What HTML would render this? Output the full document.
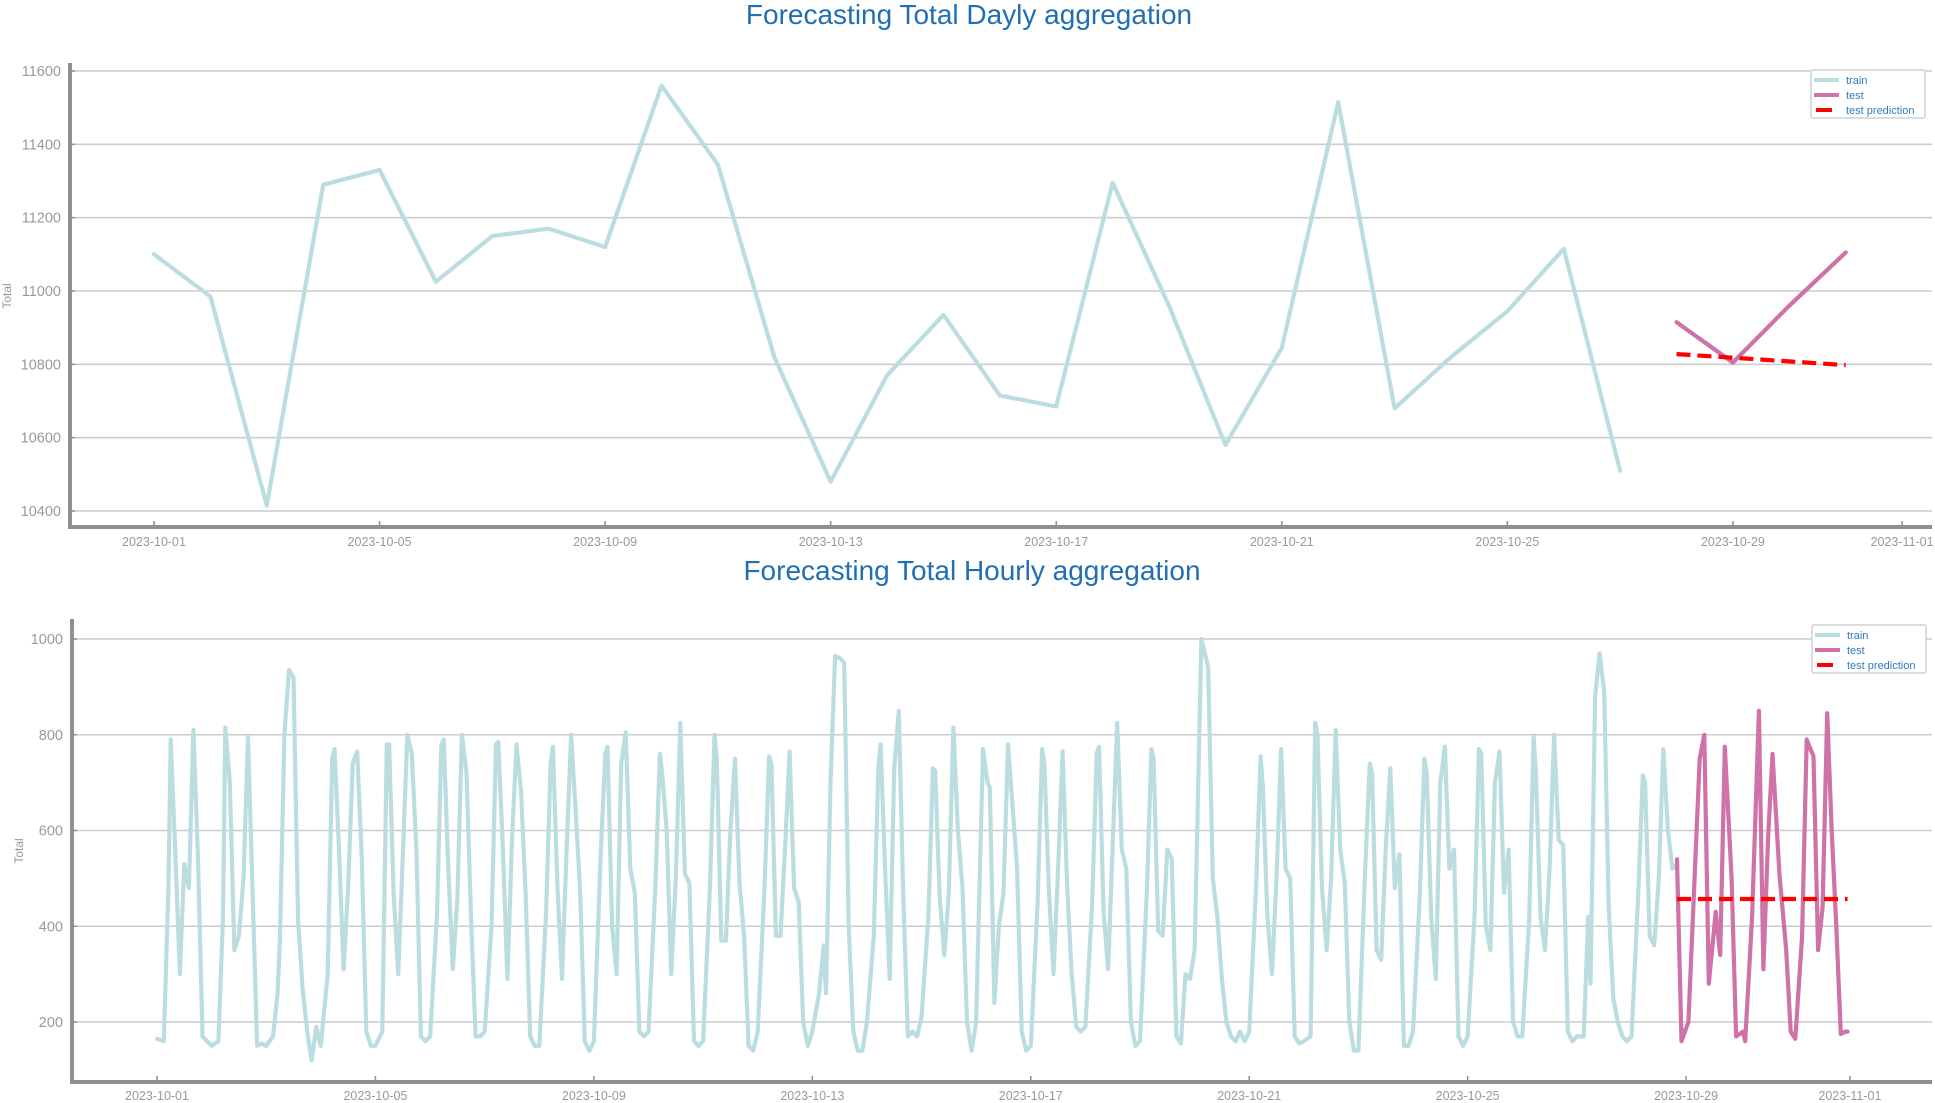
<!DOCTYPE html>
<html><head><meta charset="utf-8">
<style>
html,body{margin:0;padding:0;background:#fff;}
svg{display:block;font-family:"Liberation Sans","DejaVu Sans",sans-serif;}
</style></head>
<body>
<svg id="chart" width="1935" height="1103" viewBox="0 0 1935 1103" xmlns="http://www.w3.org/2000/svg"></svg>
<script>
// ---------- Daily chart data ----------
const dailyTrainDays = [0,1,2,3,4,5,6,7,8,9,10,11,12,13,14,15,16,17,18,19,20,21,22,23,24,25,26];
const dailyTrainValues = [11100,10985,10415,11290,11330,11025,11150,11170,11120,11560,11345,10820,10480,10770,10935,10715,10685,11295,10960,10580,10845,11515,10680,10820,10945,11115,10510];
const dailyTestDays = [27,28,29,30];
const dailyTestValues = [10915,10805,10960,11105];
const dailyPredValues = [10828,10818,10808,10798];
const dailyYTicks = [10400,10600,10800,11000,11200,11400,11600];
const dailyXTickDays = [0,4,8,12,16,20,24,28,31];
const dailyXTickLabels = ["2023-10-01","2023-10-05","2023-10-09","2023-10-13","2023-10-17","2023-10-21","2023-10-25","2023-10-29","2023-11-01"];

// ---------- Hourly chart data ----------
const hourSlots = [0,3,5,6,8,10,12,14,16,18,20,22];
const hourlyTrainByDay = [
[165,160,480,790,560,300,530,480,810,540,170,160],
[150,160,420,815,700,350,380,500,795,470,150,155],
[150,170,260,370,800,935,920,410,270,180,120,190],
[150,300,750,770,560,310,480,740,765,540,180,150],
[150,180,780,780,470,300,540,800,760,560,170,160],
[170,420,780,790,520,310,460,800,720,420,170,170],
[180,400,780,785,560,290,580,780,680,470,170,150],
[150,430,740,775,480,290,560,800,640,470,160,140],
[160,550,760,775,400,300,740,805,520,470,180,170],
[180,480,760,720,600,300,500,825,510,490,160,150],
[160,480,800,750,370,370,600,750,490,380,150,140],
[180,480,755,740,380,380,560,765,480,450,200,150],
[180,260,360,260,700,965,960,950,400,180,140,140],
[200,380,730,780,520,290,730,850,460,170,180,170],
[210,420,730,725,460,340,470,815,600,480,200,140],
[200,770,700,690,240,400,470,780,650,520,180,140],
[150,450,770,740,470,300,520,765,480,300,190,180],
[190,450,760,775,430,310,570,825,560,520,200,150],
[160,470,770,750,390,380,560,540,170,155,300,290],
[350,1000,960,940,500,420,290,200,170,160,180,160],
[180,480,755,690,420,300,500,770,520,500,170,155],
[160,170,825,800,480,350,500,810,560,490,200,140],
[140,520,740,720,350,330,560,730,480,550,150,150],
[180,470,750,720,420,290,700,775,520,560,170,150],
[170,420,770,760,400,350,700,765,470,560,200,170],
[170,410,795,720,420,350,520,800,580,570,180,160],
[170,170,420,280,880,970,890,440,250,200,170,160],
[170,470,715,700,380,360,500,770,600,520,530]
];
const testHoursH = [668,670,673,678,680,682,685,687,689,692,694,697,698,701,704,706,708,710,713,716,718,720,723,725,728,730,732,734,736,738,740,742,743];
const testValuesH = [540,160,200,750,800,280,430,340,775,500,170,180,160,420,850,310,580,760,510,350,180,165,380,790,755,350,440,845,600,400,175,180,180];
const predValueH = [457,457];
const predHoursH = [668,743];
const hourlyYTicks = [200,400,600,800,1000];
const hourlyXTickDays = [0,4,8,12,16,20,24,28,31];
const hourlyXTickLabels = ["2023-10-01","2023-10-05","2023-10-09","2023-10-13","2023-10-17","2023-10-21","2023-10-25","2023-10-29","2023-11-01"];

const NS = "http://www.w3.org/2000/svg";
const svg = document.getElementById('chart');
function mk(tag, attrs, parent){
  const e = document.createElementNS(NS, tag);
  for (const k in attrs) e.setAttribute(k, attrs[k]);
  (parent||svg).appendChild(e);
  return e;
}
const TRAIN = "#bcdde0", TEST = "#cf72a8", PRED = "#ff0000", GRID = "#cccccc", AXIS = "#8e8e93", TXT = "#999999", BLUE = "#1f6fb2";

function panel(cfg){
  const g = mk('g', {});
  
  
  const t = mk('text', {x: cfg.titleX, y: cfg.titleY, 'text-anchor':'middle', 'font-size':28, fill: BLUE}, g);
  t.textContent = cfg.title;
  
  
  cfg.yTicks.forEach(v => {
    const y = cfg.ys(v);
    const l = mk('line', {x1: cfg.left, x2: cfg.right, y1: y, y2: y, stroke: GRID, 'stroke-width': 1.6}, g);
    
    
    mk('line', {x1: cfg.left, x2: cfg.left+5, y1: y, y2: y, stroke: AXIS, 'stroke-width': 1.5}, g);
    const tx = mk('text', {x: cfg.left-9, y: y+5, 'text-anchor':'end', 'font-size':14.5, fill: TXT}, g);
    tx.textContent = String(v);
    
    
  });
  const yl = mk('text', {x: 0, y: 0, 'text-anchor':'middle', 'font-size':12, fill: TXT,
     transform: `translate(${cfg.ylabX},${cfg.ylabY}) rotate(-90)`}, g);
  yl.textContent = 'Total';
  
  
  cfg.xTickDays.forEach((d,i) => {
    const x = cfg.xsDay(d);
    mk('line', {x1: x, x2: x, y1: cfg.bottom-6, y2: cfg.bottom, stroke: AXIS, 'stroke-width': 1.5}, g);
    const tx = mk('text', {x: x, y: cfg.xLabY, 'text-anchor':'middle', 'font-size':12.5, fill: TXT}, g);
    tx.textContent = cfg.xTickLabels[i];
    
    
  });
  const sl = mk('line', {x1: cfg.left, x2: cfg.left, y1: cfg.top, y2: cfg.bottom+2, stroke: AXIS, 'stroke-width': 4}, g);
  
  
  const sb = mk('line', {x1: cfg.left-2, x2: cfg.right, y1: cfg.bottom, y2: cfg.bottom, stroke: AXIS, 'stroke-width': 4}, g);
  
  
  return g;
}
function path(g, pts, color, width, dash, name){
  const d = pts.map((p,i)=>(i?'L':'M')+p[0].toFixed(1)+' '+p[1].toFixed(1)).join(' ');
  const p = mk('path', {d: d, fill:'none', stroke: color, 'stroke-width': width, 'stroke-linejoin':'round', 'stroke-linecap': dash?'butt':'round'}, g);
  if (dash) p.setAttribute('stroke-dasharray', dash);
  
  
}
function legend(g, x, y){
  const lg = mk('g', {}, g);
  
  
  mk('rect', {x: x, y: y, width: 114, height: 48, rx: 2, fill: '#fff', stroke: '#d0d0d0', 'stroke-width': 1.5}, lg);
  const items = [['train', TRAIN, null], ['test', TEST, null], ['test prediction', PRED, '6 3']];
  items.forEach((it,i) => {
    const yy = y + 10 + i*15;
    const e = mk('g', {}, lg);
    
    
    if (it[2]) mk('line', {x1: x+5, x2: x+30, y1: yy, y2: yy, stroke: it[1], 'stroke-width': 4, 'stroke-dasharray': '16 20'}, e);
    else mk('line', {x1: x+3, x2: x+28, y1: yy, y2: yy, stroke: it[1], 'stroke-width': 4}, e);
    const t = mk('text', {x: x+35, y: yy+4, 'font-size': 11, fill: '#2e7bbf'}, e);
    t.textContent = it[0];
  });
}

const tc = {name:'daily-chart', title:'Forecasting Total Dayly aggregation', titleX: 969, titleY: 24,
  left: 70, right: 1932, top: 63, bottom: 527, xLabY: 546, ylabX: 11, ylabY: 296,
  yTicks: dailyYTicks, xTickDays: dailyXTickDays, xTickLabels: dailyXTickLabels,
  ys: v => 71 + (11600 - v) * (220/600), xsDay: d => 154 + d * 56.39};
const g1 = panel(tc);
path(g1, dailyTrainDays.map((d,i)=>[tc.xsDay(d), tc.ys(dailyTrainValues[i])]), TRAIN, 4.2, null, 'daily-train-line');
path(g1, dailyTestDays.map((d,i)=>[tc.xsDay(d), tc.ys(dailyTestValues[i])]), TEST, 4.2, null, 'daily-test-line');
path(g1, dailyTestDays.map((d,i)=>[tc.xsDay(d), tc.ys(dailyPredValues[i])]), PRED, 4.2, '14 7', 'daily-prediction-line');
legend(g1, 1811, 70);

const bc = {name:'hourly-chart', title:'Forecasting Total Hourly aggregation', titleX: 972, titleY: 580,
  left: 72, right: 1932, top: 619, bottom: 1082, xLabY: 1100, ylabX: 23, ylabY: 851,
  yTicks: hourlyYTicks, xTickDays: hourlyXTickDays, xTickLabels: hourlyXTickLabels,
  ys: v => 639 + (1000 - v) * (383/800), xsDay: d => 157 + d * 54.61};
const xsHour = h => bc.xsDay(h/24);
const g2 = panel(bc);
const trainPts = [];
hourlyTrainByDay.forEach((vals, d) => {
  vals.forEach((v, k) => trainPts.push([xsHour(d*24 + hourSlots[k]), bc.ys(v)]));
});
path(g2, trainPts, TRAIN, 4.2, null, 'hourly-train-line');
path(g2, testHoursH.map((h,i)=>[xsHour(h), bc.ys(testValuesH[i])]), TEST, 4.2, null, 'hourly-test-line');
path(g2, predHoursH.map((h,i)=>[xsHour(h), bc.ys(predValueH[i])]), PRED, 4.2, '14 7', 'hourly-prediction-line');
legend(g2, 1812, 625);
</script>
</body></html>
